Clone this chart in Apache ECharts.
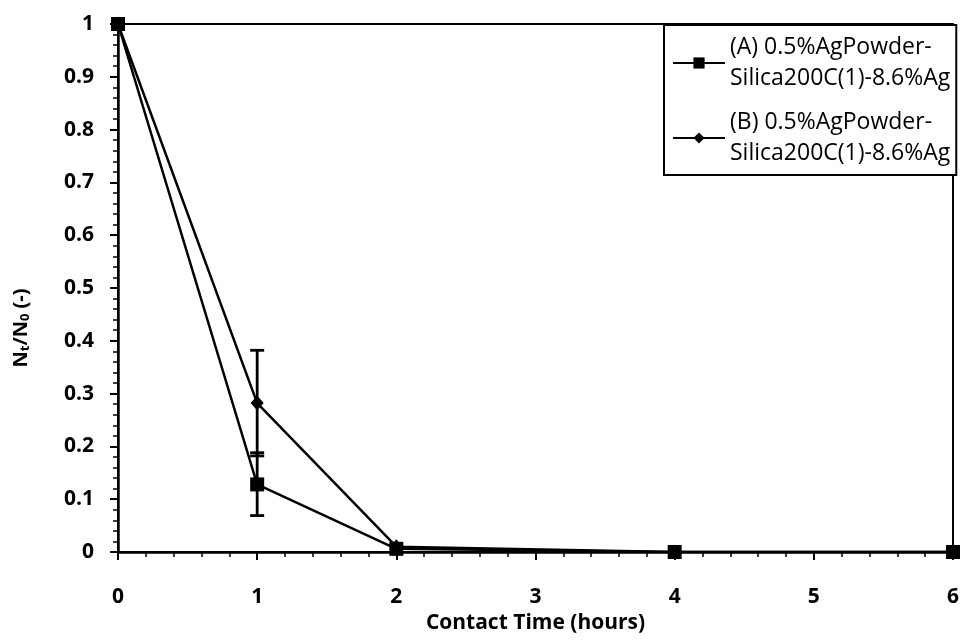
<!DOCTYPE html>
<html>
<head>
<meta charset="utf-8">
<script src="https://cdn.jsdelivr.net/npm/echarts@6/dist/echarts.min.js"></script>
<style>
  html, body { margin: 0; padding: 0; background: #fff; }
  #main { width: 962px; height: 641px; }
</style>
</head>
<body>
<div id="main"></div>
<script>
// data
var hours = [0, 1, 2, 4, 6];
var seriesA = [1, 0.128, 0.006, 0, 0];
var seriesB = [1, 0.282, 0.01, 0, 0];
// error bars at 1 hour: [x, low, high]
var errA = [[1, 0.069, 0.188]];
var errB = [[1, 0.182, 0.382]];
var nameA = '(A) 0.5%AgPowder-Silica200C(1)-8.6%Ag';
var nameB = '(B) 0.5%AgPowder-Silica200C(1)-8.6%Ag';

var myChart = echarts.init(document.getElementById('main'), null, { renderer: 'canvas' });
var font = 'Open Sans';

function pairs(xs, ys) {
  return xs.map(function (x, i) { return [x, ys[i]]; });
}

function errorBar(params, api) {
  var x = api.value(0);
  var lo = api.coord([x, api.value(1)]);
  var hi = api.coord([x, api.value(2)]);
  var w = 7;
  var st = { stroke: '#000', lineWidth: 2.8 };
  return {
    type: 'group',
    children: [
      { type: 'line', shape: { x1: lo[0], y1: lo[1], x2: hi[0], y2: hi[1] }, style: st },
      { type: 'line', shape: { x1: lo[0] - w, y1: lo[1], x2: lo[0] + w, y2: lo[1] }, style: st },
      { type: 'line', shape: { x1: hi[0] - w, y1: hi[1], x2: hi[0] + w, y2: hi[1] }, style: st }
    ]
  };
}

var option = {
  animation: false,
  backgroundColor: '#fff',
  textStyle: { fontFamily: font },
  grid: {
    left: 118, right: 4, top: 24, bottom: 89,
    show: true, borderColor: '#000', borderWidth: 2
  },
  legend: {
    orient: 'vertical',
    left: 664, top: 25,
    padding: [7, 6, 6, 8],
    itemGap: 13,
    itemWidth: 52, itemHeight: 14,
    backgroundColor: '#fff',
    borderColor: '#000', borderWidth: 2,
    data: [nameA, nameB],
    formatter: function (n) { return n.replace('-Silica', '-\nSilica'); },
    textStyle: { fontFamily: font, fontSize: 23, color: '#000', lineHeight: 31 }
  },
  xAxis: {
    type: 'value', min: 0, max: 6, interval: 1,
    name: 'Contact Time (hours)', nameLocation: 'middle', nameGap: 60,
    nameTextStyle: { fontFamily: font, fontSize: 21, fontWeight: 'bold', color: '#000' },
    axisLine: { onZero: false, lineStyle: { color: '#000', width: 2.5 } },
    axisTick: { length: 8, lineStyle: { color: '#000', width: 2 } },
    minorTick: { show: true, splitNumber: 5, length: 5, lineStyle: { color: '#000', width: 1.5 } },
    axisLabel: { margin: 35, fontFamily: font, fontSize: 21, fontWeight: 'bold', color: '#000' },
    splitLine: { show: false }
  },
  yAxis: {
    type: 'value', min: 0, max: 1, interval: 0.1,
    name: 'N{sub|t}/N{sub|0} (-)', nameLocation: 'middle', nameGap: 86,
    nameTextStyle: {
      fontFamily: font, fontSize: 20, fontWeight: 'bold', color: '#000',
      padding: [0, 80, 0, 0],
      rich: { sub: { fontFamily: font, fontSize: 13, fontWeight: 'bold', verticalAlign: 'bottom', padding: [8, 0, 0, 0] } }
    },
    axisLine: { lineStyle: { color: '#000', width: 2.5 } },
    axisTick: { length: 8, lineStyle: { color: '#000', width: 2 } },
    minorTick: { show: true, splitNumber: 5, length: 5, lineStyle: { color: '#000', width: 1.5 } },
    axisLabel: { margin: 24, fontFamily: font, fontSize: 21, fontWeight: 'bold', color: '#000' },
    splitLine: { show: false }
  },
  series: [
    {
      name: nameB, type: 'line', data: pairs(hours, seriesB),
      symbol: 'diamond', symbolSize: [13, 15],
      itemStyle: { color: '#000' },
      lineStyle: { color: '#000', width: 2.5 },
      z: 3
    },
    {
      name: nameA, type: 'line', data: pairs(hours, seriesA),
      symbol: 'rect', symbolSize: 14,
      itemStyle: { color: '#000' },
      lineStyle: { color: '#000', width: 2.5 },
      z: 4
    },
    { type: 'custom', data: errB, renderItem: errorBar, z: 5, encode: { x: 0, y: [1, 2] } },
    { type: 'custom', data: errA, renderItem: errorBar, z: 5, encode: { x: 0, y: [1, 2] } }
  ]
};

myChart.setOption(option);
</script>
</body>
</html>
